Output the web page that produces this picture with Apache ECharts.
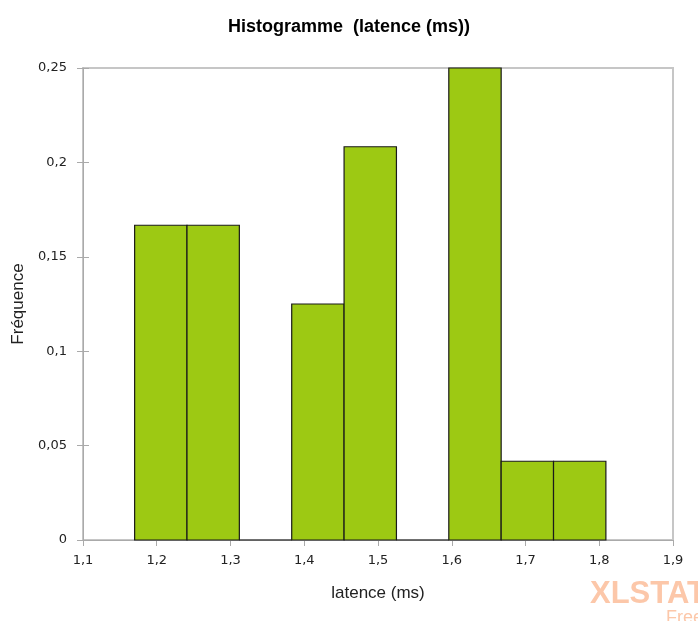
<!DOCTYPE html>
<html><head><meta charset="utf-8">
<script src="https://cdn.jsdelivr.net/npm/echarts@6/dist/echarts.min.js"></script>
<style>html,body{margin:0;padding:0;background:#fff}#c{width:698px;height:621px}</style>
</head><body><div id="c"></div>
<script>
var binStart = [1.170, 1.241, 1.312, 1.383, 1.454, 1.525, 1.596, 1.667, 1.738];
var binEnd   = [1.241, 1.312, 1.383, 1.454, 1.525, 1.596, 1.667, 1.738, 1.809];
var frequency = [0.1667, 0.1667, 0, 0.125, 0.2083, 0, 0.25, 0.0417, 0.0417];
var title = 'Histogramme  (latence (ms))';
var xName = 'latence (ms)';
var yName = 'Fréquence';

var data = binStart.map(function(s, i){ return [s, binEnd[i], frequency[i]]; });
var fmt = function(v){ return String(+v.toFixed(4)).replace('.', ','); };
var chart = echarts.init(document.getElementById('c'));
chart.setOption({
  animation: false,
  title: { text: title, left: 'center', top: 13,
    textStyle: { fontFamily: 'Liberation Sans', fontWeight: 'bold', fontSize: 18, color: '#000' } },
  grid: { left: 83, right: 25, top: 68, bottom: 81, outerBoundsMode: 'none', containLabel: false,
    show: true, borderColor: '#c6c6c6', borderWidth: 2, backgroundColor: '#fff' },
  xAxis: { type: 'value', min: 1.1, max: 1.9, interval: 0.1,
    name: xName, nameLocation: 'middle', nameGap: 45,
    nameTextStyle: { fontFamily: 'Liberation Sans', fontSize: 17, color: '#222' },
    axisLine: { show: true, lineStyle: { color: '#aaa' } },
    axisTick: { show: true, length: 6, lineStyle: { color: '#aaa' } },
    axisLabel: { formatter: fmt, fontFamily: 'DejaVu Sans', fontSize: 13, color: '#222', margin: 14 },
    splitLine: { show: false } },
  yAxis: [{ type: 'value', min: 0, max: 0.25, interval: 0.05,
    name: yName, nameLocation: 'middle', nameGap: 56, nameRotate: 90,
    nameTextStyle: { fontFamily: 'Liberation Sans', fontSize: 17, color: '#222' },
    axisLine: { show: true, lineStyle: { color: '#aaa' } },
    axisTick: { show: true, length: 6, lineStyle: { color: '#aaa' } },
    axisLabel: { formatter: fmt, fontFamily: 'DejaVu Sans', fontSize: 13, color: '#222', margin: 16 },
    splitLine: { show: false } },
    { type: 'value', min: 0, max: 0.25, interval: 0.05, position: 'left',
    axisLine: { show: false }, axisTick: { show: true, inside: true, length: 6, lineStyle: { color: '#aaa' } },
    axisLabel: { show: false }, splitLine: { show: false } }],
  series: [{
    type: 'custom',
    data: data,
    encode: { x: [0, 1], y: 2 },
    renderItem: function(params, api){
      var p0 = api.coord([api.value(0), 0]);
      var p1 = api.coord([api.value(1), api.value(2)]);
      return { type: 'rect',
        shape: { x: p0[0], y: p1[1], width: p1[0] - p0[0], height: p0[1] - p1[1] },
        style: { fill: '#9dc913', stroke: '#1a1a1a', lineWidth: 1.2 } };
    }
  }],
  graphic: [
    { type: 'text', left: 590, top: 579, style: { text: 'XLSTAT', fontFamily: 'Liberation Sans', fontWeight: 'bold', fontSize: 31, fill: '#fcc7a9' } },
    { type: 'text', left: 666, top: 609, style: { text: 'Free', fontFamily: 'Liberation Sans', fontSize: 18, fill: '#fcc7a9' } }
  ]
});
</script></body></html>
